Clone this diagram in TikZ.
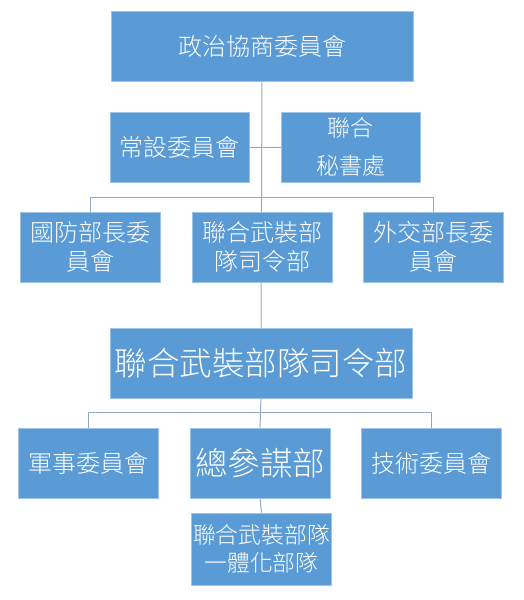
\documentclass[tikz,border=0pt]{standalone}
\usepackage{fontspec}
\newfontfamily\cjk{Noto Sans CJK TC}[UprightFont={* Light}]
\usepackage{tikz}
\usetikzlibrary{backgrounds}
\definecolor{boxfill}{HTML}{5B9BD5}
\definecolor{boxline}{HTML}{9DC3E6}
\definecolor{linkline}{HTML}{93AAC6}
\tikzset{
  orgbox/.style={draw=boxline, fill=boxfill, text=white, line width=0.8pt,
    minimum width=140pt, minimum height=70pt, inner sep=0pt, align=center,
    font=\cjk\fontsize{24}{29}\selectfont},
  widebox/.style={orgbox, minimum width=302pt},
  link/.style={draw=linkline, line width=1pt}
}

\begin{document}
\begin{tikzpicture}[x=1pt,y=-1pt]
\useasboundingbox (0,0) rectangle (523,600);

% Top level
\node[widebox] (council) at (262,46.5) {政治協商委員會};

% Standing committee and secretariat
\node[orgbox, minimum width=139pt] (standing) at (179.5,147) {常設委員會};
\node[orgbox, minimum width=139pt, font=\cjk\fontsize{23}{38}\selectfont] (secretariat) at (350.5,147) {聯合\\秘書處};

% Committees under the council
\node[orgbox] (defense) at (90.5,247) {國防部長委\\員會};
\node[orgbox] (jointhq) at (262,247) {聯合武裝部\\隊司令部};
\node[orgbox] (foreign) at (433,247) {外交部長委\\員會};

% Joint command
\node[widebox, font=\cjk\fontsize{32.5}{38}\selectfont] (command) at (261,363) {聯合武裝部隊司令部};

% Under the joint command
\node[orgbox] (military) at (88.5,463) {軍事委員會};
\node[orgbox, font=\cjk\fontsize{32.5}{38}\selectfont] (staff) at (260,463) {總參謀部};
\node[orgbox] (tech) at (431.5,463) {技術委員會};

\node[orgbox, minimum height=72pt, font=\cjk\fontsize{22.8}{28}\selectfont] (unified) at (261.5,549) {聯合武裝部隊\\一體化部隊};

% Connectors
\begin{scope}[on background layer]
\draw[link] (council.south) -- (command.north);
\draw[link] (standing.east) -- (secretariat.west);
\draw[link] (defense.north) -- ++(0,-14) -| (foreign.north);
\draw[link] (command.south) -- (staff.north);
\draw[link] (military.north) -- ++(0,-15) -| (tech.north);
\draw[link] (staff.south) -- (unified.north);
\end{scope}

\end{tikzpicture}
\end{document}
